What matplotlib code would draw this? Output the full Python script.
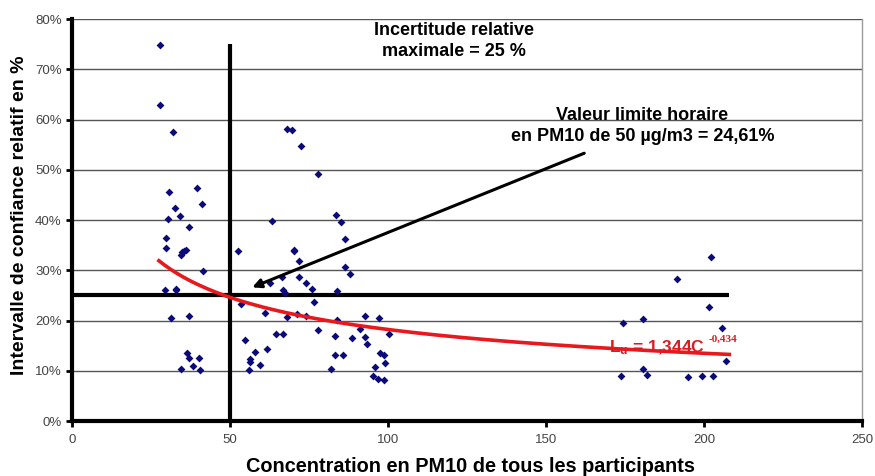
import numpy as np
import matplotlib
matplotlib.use("Agg")
import matplotlib.pyplot as plt

plt.rcParams['font.family'] = ['Liberation Sans', 'DejaVu Sans']
plt.rcParams['mathtext.fontset'] = 'custom'
plt.rcParams['mathtext.rm'] = 'Liberation Sans'
plt.rcParams['mathtext.bf'] = 'Liberation Sans:bold'

# data: concentration PM10 (µg/m3) et intervalle de confiance relatif (%)
conc = [28.0, 27.7, 31.8, 30.6, 39.4, 41.0, 32.6, 30.4, 34.2, 36.9, 29.8,
        29.6, 34.8, 34.5, 36.1, 35.5, 41.4, 29.5, 32.9, 33.0, 31.3, 37.1,
        36.3, 36.9, 40.2, 34.5, 38.4, 40.6,
        52.5, 53.4, 54.7, 56.3, 56.2, 57.9, 56.0, 59.4, 61.1, 61.7, 64.4,
        66.8, 62.6, 70.1, 70.2, 66.7, 67.3, 68.1, 68.0, 69.5, 72.5, 77.7,
        83.4, 85.0, 86.3, 63.2, 71.8, 86.3, 87.9, 66.5, 71.7, 74.2, 76.1,
        83.7, 76.6, 71.2, 74.2, 84.0, 92.7, 97.1, 91.2, 100.2, 77.8, 92.7,
        93.4, 83.2, 88.5, 83.2, 85.6, 82.0, 97.4, 98.6, 99.0, 95.8, 95.4,
        96.9, 98.7,
        202.3, 191.3, 201.7, 174.4, 180.6, 205.8, 206.9, 180.6, 181.8,
        173.6, 195.0, 199.3, 202.9]
ic = [74.8, 62.9, 57.6, 45.6, 46.3, 43.2, 42.4, 40.3, 40.8, 38.6, 36.5,
      34.4, 33.6, 33.0, 34.0, 33.9, 29.9, 26.0, 26.3, 26.0, 20.6, 21.0,
      13.6, 12.5, 12.6, 10.3, 10.9, 10.2,
      33.8, 23.3, 16.1, 12.4, 11.8, 13.7, 10.1, 11.2, 21.5, 14.4, 17.3,
      17.4, 27.4, 34.0, 33.9, 26.1, 25.4, 20.8, 58.1, 58.0, 54.7, 49.2,
      41.1, 39.7, 36.2, 39.9, 31.8, 30.7, 29.3, 28.7, 28.7, 27.5, 26.3,
      25.8, 23.6, 21.2, 20.9, 20.2, 20.9, 20.6, 18.4, 17.4, 18.2, 16.8,
      15.3, 16.9, 16.6, 13.2, 13.1, 10.3, 13.5, 13.1, 11.5, 10.8, 9.0,
      8.4, 8.2,
      32.7, 28.3, 22.6, 19.5, 20.3, 18.6, 11.9, 10.3, 9.2,
      9.0, 8.8, 9.0, 9.0]

# courbe de tendance (puissance) donnée sur le graphique
coef_a = 1.344
coef_b = -0.434
c_min, c_max = 27.5, 208

x_ticks = [0, 50, 100, 150, 200, 250]
y_ticks = [0, 10, 20, 30, 40, 50, 60, 70, 80]

fig = plt.figure(figsize=(8.75, 4.76), dpi=100)
ax = fig.add_axes([0.0823, 0.1155, 0.9029, 0.8445])

ax.set_xlim(0, 250)
ax.set_ylim(0, 80)

# grille
for yv in y_ticks[1:]:
    ax.axhline(yv, color='#555555', lw=1.0, zorder=1)

# lignes de référence
ax.plot([0, 208], [25, 25], color='k', lw=3, zorder=2, solid_capstyle='butt')
ax.plot([50, 50], [0, 75], color='k', lw=3, zorder=2, solid_capstyle='butt')

# points
ax.scatter(conc, ic, marker='D', s=16, color='#0A0A78', zorder=3, linewidths=0)

# courbe de tendance
cc = np.linspace(c_min, c_max, 200)
ax.plot(cc, coef_a * cc ** coef_b * 100, color='#E8181C', lw=2.6, zorder=4)

# axes
ax.spines['top'].set_visible(False)
ax.spines['right'].set_color('#999999')
ax.spines['right'].set_linewidth(1)
ax.spines['left'].set_linewidth(3)
ax.spines['bottom'].set_linewidth(3)
ax.set_xticks(x_ticks)
ax.set_yticks(y_ticks)
ax.set_yticklabels([f"{v}%" for v in y_ticks])
ax.tick_params(axis='both', length=4, width=2, colors='k', labelcolor='#444444',
               labelsize=9.5, direction='out')
ax.tick_params(axis='x', pad=5)

fig.text(470 / 875, 1 - 466 / 476, "Concentration en PM10 de tous les participants",
         fontsize=14.3, fontweight='bold', ha='center', va='center')
fig.text(20 / 875, 1 - 215 / 476, "Intervalle de confiance relatif en %",
         fontsize=14, fontweight='bold', ha='center', va='center', rotation=90)

# textes
ax.text(121, 75.6, "Incertitude relative\nmaximale = 25 %", ha='center', va='center',
        fontsize=13, fontweight='bold', linespacing=1.3)
ax.text(180.5, 58.7, "Valeur limite horaire\nen PM10 de 50 µg/m3 = 24,61%", ha='center',
        va='center', fontsize=13, fontweight='bold', linespacing=1.3)
ax.annotate("", xy=(56.2, 26.4), xytext=(162.9, 53.5),
            arrowprops=dict(arrowstyle='-|>', color='k', lw=2.2, mutation_scale=13))
ax.text(170, 13.7, r"$\mathbf{L_u}$ = 1,344C", color='#D81E22', fontsize=12.5,
        fontweight='bold', ha='left', va='baseline', zorder=5)
ax.text(201.5, 15.7, "-0,434", color='#D81E22', fontsize=8, fontweight='bold',
        family='Liberation Serif', ha='left', va='baseline', zorder=5)

plt.savefig("out.png", dpi=100)
